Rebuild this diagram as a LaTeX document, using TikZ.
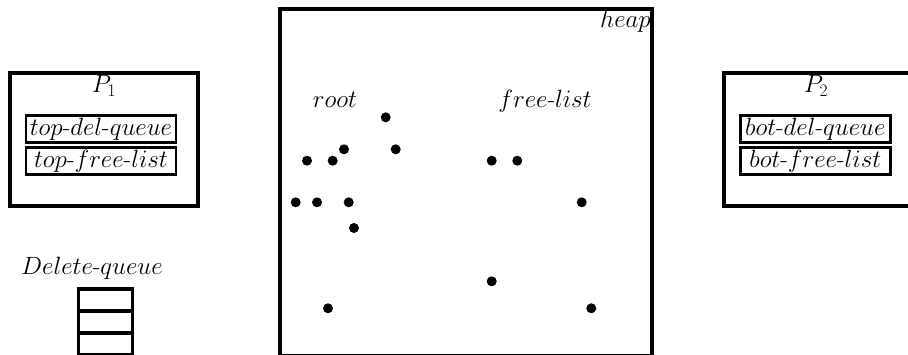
\RequirePackage{fix-cm}
\documentclass[tikz,border=0pt]{standalone}
\newcommand{\hy}{\mbox{-}}
\begin{document}
\begin{tikzpicture}[x=1pt,y=-1pt,
  outer/.style={draw,line width=4pt,inner sep=0pt},
  inner/.style={draw,line width=2.5pt,inner sep=0pt,minimum width=150pt,minimum height=27pt},
  cell/.style={draw,line width=3.5pt,inner sep=0pt,minimum width=54pt,minimum height=22pt},
  lbl/.style={inner sep=0pt,font=\fontsize{25}{30}\selectfont},
  dot/.style={circle,fill,inner sep=0pt,minimum size=10pt}]
\clip (0,0) rectangle (908,354);
\useasboundingbox (0,0) rectangle (908,354);
% P1
\node[outer,minimum width=188pt,minimum height=133pt] (p1) at (104,139) {};
\node[lbl] (p1l) at (104,86) {$P_1$};
\node[inner] (tdq) at (101,129.2) {};
\node[lbl] at (tdq) {$top\hy del\hy queue$};
\node[inner] (tfl) at (101,161.2) {};
\node[lbl] at (tfl) {$top\hy free\hy list$};
% P2
\node[outer,minimum width=200pt,minimum height=133pt] (p2) at (824,139) {};
\node[lbl] (p2l) at (816,86) {$P_2$};
\node[inner] (bdq) at (815.3,129.2) {};
\node[lbl] at (bdq) {$bot\hy del\hy queue$};
\node[inner] (bfl) at (815.3,161.2) {};
\node[lbl] at (bfl) {$bot\hy free\hy list$};
% Delete queue
\node[lbl] (dql) at (92,268) {$Delete\hy queue$};
\node[cell] (q1) at (105.5,300) {};
\node[cell] (q2) at (105.5,322) {};
\node[cell] (q3) at (105.5,344) {};
% heap
\node[outer,minimum width=371.5pt,minimum height=346.5pt] (heap) at (465.75,182.25) {};
\node[lbl,anchor=east] (heapl) at (651,21) {$heap$};
\node[lbl] (root) at (335,100) {$root$};
\node[lbl] (fl) at (545,101) {$free\hy list$};
% dots
\node[dot] (d1) at (385.7,117.3) {};
\node[dot] (d2) at (344,149.3) {};
\node[dot] (d3) at (395.7,149.3) {};
\node[dot] (d4) at (307,160.7) {};
\node[dot] (d5) at (332.7,160.7) {};
\node[dot] (d6) at (491.7,160.7) {};
\node[dot] (d7) at (517.3,160.7) {};
\node[dot] (d8) at (295.7,202.3) {};
\node[dot] (d9) at (317,202.3) {};
\node[dot] (d10) at (348.7,202.3) {};
\node[dot] (d11) at (581.7,202.3) {};
\node[dot] (d12) at (354,228) {};
\node[dot] (d13) at (491.7,281.3) {};
\node[dot] (d14) at (328,308.3) {};
\node[dot] (d15) at (591.3,308.3) {};
\end{tikzpicture}
\end{document}
